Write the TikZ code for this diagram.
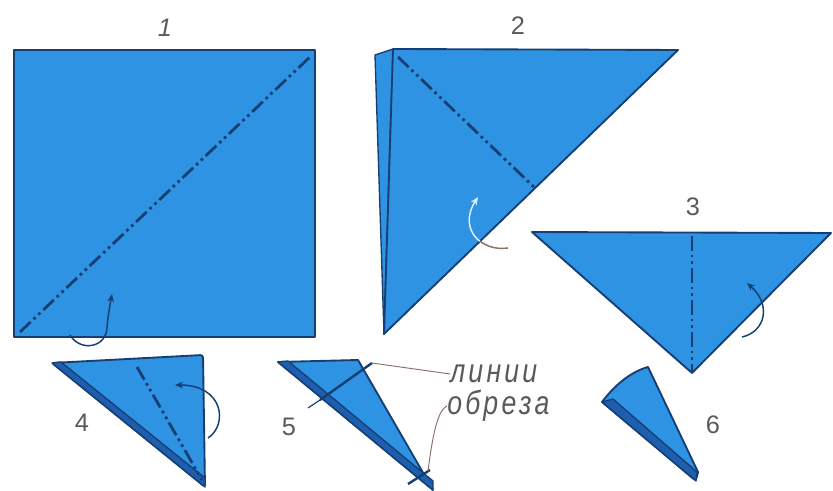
\documentclass[tikz,border=0pt]{standalone}
\usepackage{fontspec}
\setmainfont{Liberation Sans}
\usetikzlibrary{arrows.meta}
\definecolor{paper}{HTML}{2E93E3}
\definecolor{fold}{HTML}{1D5FAE}
\definecolor{edge}{HTML}{163E73}
\definecolor{ink}{HTML}{5A5A5A}
\definecolor{lead}{HTML}{8A6F66}
\newcommand{\tallword}[1]{\scalebox{1}[1.25]{#1}}
\tikzset{
  sheet/.style={fill=paper, draw=edge, line width=1.4pt, line join=round},
  layer/.style={fill=fold, draw=edge, line width=1pt, line join=round},
  foldline/.style={draw=edge, line width=2.1pt, dash pattern=on 11pt off 3pt on 2pt off 3pt on 2pt off 3pt},
  cutline/.style={draw=edge, line width=1.8pt},
  leader/.style={draw=lead, line width=0.7pt},
  turn/.style={draw=#1, line width=1.1pt, -{Stealth[length=6pt,width=5pt]}},
  num/.style={text=ink, font=\fontsize{19}{19}\selectfont},
  word/.style={text=ink, font=\fontsize{20}{20}\selectfont\itshape\addfontfeatures{LetterSpace=12}, inner sep=0pt, anchor=west}
}
\begin{document}
\begin{tikzpicture}[x=0.75pt,y=-0.75pt]
\useasboundingbox (0,0) rectangle (833,491);
\fill[white] (0,0) rectangle (833,491);

% --- step 1: the square sheet with its diagonal fold
\path[sheet] (14,50) rectangle (315,337);
\coordinate (d1a) at (20,332);
\coordinate (d1b) at (311,56);
\draw[foldline] (d1a) -- (d1b);
\coordinate (t1a) at (70,335);
\coordinate (t1b) at (112,294);
\draw[turn=edge] (t1a) .. controls (80,352) and (106,348) .. (107,328) .. controls (108,315) and (110,305) .. (t1b);
\node[num] (n1) at (165,28) {\itshape 1};

% --- step 2: folded in half along the diagonal
\path[sheet, line width=1pt] (375,55) -- (393,49) -- (384,334) -- cycle;
\path[sheet] (393,49) -- (678,50) -- (384,334) -- cycle;
\coordinate (d2a) at (398,57);
\coordinate (d2b) at (535,188);
\draw[foldline] (d2a) -- (d2b);
\coordinate (t2a) at (508,248);
\coordinate (t2b) at (478,197);
\begin{scope}
  \clip (393,49) -- (678,50) -- (384,334) -- cycle;
  \draw[turn=white!85!paper] (t2a) .. controls (480,252) and (458,228) .. (t2b);
\end{scope}
\begin{scope}
  \clip (678,50) -- (384,334) -- (833,334) -- (833,50) -- cycle;
  \draw[draw=lead, line width=1.1pt] (t2a) .. controls (480,252) and (458,228) .. (t2b);
\end{scope}
\node[num] (n2) at (518,26) {2};

% --- step 3: folded triangle, fold again down the middle
\path[sheet] (532,232) -- (831,233) -- (692,373) -- cycle;
\coordinate (d3a) at (692,236);
\coordinate (d3b) at (692,371);
\draw[foldline] (d3a) -- (d3b);
\coordinate (t3a) at (742,337);
\coordinate (t3b) at (747,283);
\draw[turn=edge] (t3a) .. controls (765,332) and (772,305) .. (t3b);
\node[num] (n3) at (693,207) {3};

% --- step 4: the narrow triangle, fold once more
\path[sheet, rounded corners=2pt] (52,363) -- (203,355) -- (205,487) -- cycle;
\path[layer] (52,363) -- (61,362) -- (205,478) -- (205,487) -- cycle;
\coordinate (d4a) at (137,367);
\coordinate (d4b) at (202,480);
\draw[foldline] (d4a) -- (d4b);
\coordinate (t4a) at (208,438);
\coordinate (t4b) at (175,385);
\draw[turn=edge] (t4a) .. controls (228,425) and (224,385) .. (t4b);
\node[num] (n4) at (82,423) {4};

% --- step 5: the wedge with both cutting lines
\path[sheet] (278,362) -- (358,360) -- (433,490) -- cycle;
\path[layer] (278,362) -- (288,361) -- (433,481) -- (433,490) -- cycle;
\coordinate (c1a) at (320,400);
\coordinate (c1b) at (372,363);
\coordinate (c1c) at (308,408);
\coordinate (c2a) at (408,484);
\coordinate (c2b) at (430,470);
\draw[cutline] (c1a) -- (c1b);
\draw[draw=edge, line width=0.9pt] (c1a) -- (c1c);
\draw[cutline] (c2a) -- (c2b);
\node[num] (n5) at (289,427) {5};
\node[word] (w1) at (450,374) {\tallword{линии}};
\node[word] (w2) at (447,406) {\tallword{обреза}};
\draw[leader] (c1b) -- (w1.west);
\draw[leader] (w2.west) .. controls (437,410) and (432,440) .. (428,471);

% --- step 6: the finished piece
\path[sheet] (602,402) .. controls (614,386) and (630,372) .. (648,367) -- (698,472) [rounded corners=3pt] -- (696,481) [sharp corners] -- cycle;
\path[layer] (602,402) -- (613,399) -- (697,472) -- (696,481) -- cycle;
\node[num] (n6) at (713,425) {6};
\end{tikzpicture}
\end{document}
